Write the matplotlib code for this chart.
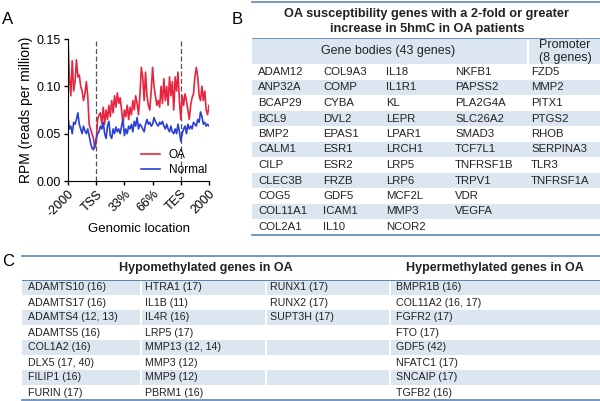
import matplotlib
matplotlib.use('Agg')
import matplotlib.pyplot as plt
from matplotlib.patches import Rectangle
import numpy as np

plt.rcParams['font.family'] = ['Liberation Sans', 'DejaVu Sans']

# Panel A: 5hmC profile (20 bins upstream, 60 gene body, 20 downstream)
oa = [0.150, 0.110, 0.090, 0.127, 0.095, 0.105, 0.128, 0.110, 0.112, 0.100,
      0.095, 0.085, 0.092, 0.105, 0.090, 0.060, 0.055, 0.050, 0.045, 0.035,
      0.040, 0.065, 0.070, 0.072, 0.060, 0.078, 0.060, 0.075, 0.065, 0.080,
      0.068, 0.085, 0.072, 0.090, 0.078, 0.093, 0.082, 0.088, 0.075, 0.060,
      0.075, 0.068, 0.080, 0.065, 0.078, 0.070, 0.085, 0.075, 0.090, 0.082,
      0.070, 0.090, 0.120, 0.110, 0.085, 0.115, 0.090, 0.080, 0.075, 0.095,
      0.120, 0.100, 0.090, 0.080, 0.085, 0.078, 0.100, 0.082, 0.108, 0.085,
      0.100, 0.080, 0.110, 0.090, 0.105, 0.075, 0.110, 0.095, 0.115, 0.085,
      0.065, 0.090, 0.080, 0.092, 0.085, 0.075, 0.065, 0.080, 0.088, 0.092,
      0.110, 0.120, 0.110, 0.090, 0.085, 0.100, 0.085, 0.095, 0.075, 0.070,
      0.080]
normal = [0.068, 0.055, 0.058, 0.050, 0.062, 0.060, 0.065, 0.072, 0.060, 0.055,
          0.050, 0.058, 0.053, 0.050, 0.055, 0.048, 0.040, 0.035, 0.033, 0.038,
          0.045, 0.050, 0.052, 0.058, 0.055, 0.062, 0.050, 0.045, 0.058, 0.063,
          0.048, 0.045, 0.055, 0.050, 0.057, 0.052, 0.055, 0.050, 0.058, 0.065,
          0.048, 0.055, 0.050, 0.058, 0.055, 0.060, 0.052, 0.063, 0.058, 0.067,
          0.055, 0.060, 0.058, 0.055, 0.052, 0.060, 0.065, 0.060, 0.062, 0.058,
          0.060, 0.067, 0.063, 0.060, 0.058, 0.062, 0.060, 0.063, 0.058, 0.055,
          0.060, 0.055, 0.052, 0.058, 0.052, 0.050, 0.055, 0.050, 0.060, 0.052,
          0.042, 0.050, 0.055, 0.058, 0.050, 0.060, 0.055, 0.058, 0.055, 0.062,
          0.060, 0.058, 0.065, 0.062, 0.073, 0.068, 0.060, 0.062, 0.058, 0.060,
          0.058]
tick_pos = [0, 20, 40, 60, 80, 100]
tick_labels = ['-2000', 'TSS', '33%', '66%', 'TES', '2000']
tss_bin, tes_bin = 20, 80

# Panel B: OA susceptibility genes
b_title = ['OA susceptibility genes with a 2-fold or greater',
           'increase in 5hmC in OA patients']
b_cols = [
    ['ADAM12', 'ANP32A', 'BCAP29', 'BCL9', 'BMP2', 'CALM1', 'CILP', 'CLEC3B', 'COG5', 'COL11A1', 'COL2A1'],
    ['COL9A3', 'COMP', 'CYBA', 'DVL2', 'EPAS1', 'ESR1', 'ESR2', 'FRZB', 'GDF5', 'ICAM1', 'IL10'],
    ['IL18', 'IL1R1', 'KL', 'LEPR', 'LPAR1', 'LRCH1', 'LRP5', 'LRP6', 'MCF2L', 'MMP3', 'NCOR2'],
    ['NKFB1', 'PAPSS2', 'PLA2G4A', 'SLC26A2', 'SMAD3', 'TCF7L1', 'TNFRSF1B', 'TRPV1', 'VDR', 'VEGFA'],
    ['FZD5', 'MMP2', 'PITX1', 'PTGS2', 'RHOB', 'SERPINA3', 'TLR3', 'TNFRSF1A'],
]

# Panel C: methylation genes
hypo_cols = [
    ['ADAMTS10 (16)', 'ADAMTS17 (16)', 'ADAMTS4 (12, 13)', 'ADAMTS5 (16)', 'COL1A2 (16)',
     'DLX5 (17, 40)', 'FILIP1 (16)', 'FURIN (17)'],
    ['HTRA1 (17)', 'IL1B (11)', 'IL4R (16)', 'LRP5 (17)', 'MMP13 (12, 14)', 'MMP3 (12)',
     'MMP9 (12)', 'PBRM1 (16)'],
    ['RUNX1 (17)', 'RUNX2 (17)', 'SUPT3H (17)'],
]
hyper_col = ['BMPR1B (16)', 'COL11A2 (16, 17)', 'FGFR2 (17)', 'FTO (17)', 'GDF5 (42)',
             'NFATC1 (17)', 'SNCAIP (17)', 'TGFB2 (16)']

red = '#e8253f'
blue = '#2a3fd4'
shade = '#dce6f1'
rule = '#5b84b8'
txt = '#222222'

fig = plt.figure(figsize=(6.0, 4.01), dpi=100)

# ---- panel A
ax = fig.add_axes([68 / 600, 1 - 181 / 401, 141 / 600, 142 / 401])
x = np.arange(len(oa))
ax.plot(x, oa, color=red, lw=1.2, label='OA')
ax.plot(x, normal, color=blue, lw=1.2, label='Normal')
for b in (tss_bin, tes_bin):
    ax.axvline(b, color='#555555', lw=0.9, ls=(0, (4, 2)), zorder=0)
ax.set_xlim(0, 100)
ax.set_ylim(0, 0.15)
ax.set_yticks([0, 0.05, 0.10, 0.15])
ax.set_yticklabels(['0.00', '0.05', '0.10', '0.15'], fontsize=9)
ax.set_xticks(tick_pos)
ax.set_xticklabels(tick_labels, fontsize=9, rotation=45, ha='right',
                   rotation_mode='anchor')
ax.spines['top'].set_visible(False)
ax.spines['right'].set_visible(False)
ax.tick_params(direction='out', length=3, width=1, pad=2)
ax.set_ylabel('RPM (reads per million)', fontsize=10, labelpad=3)
ax.set_xlabel('Genomic location', fontsize=9.5, labelpad=3)
ax.legend(loc='lower right', frameon=False, fontsize=8.5, handlelength=1.6,
          borderaxespad=0.0, labelspacing=0.3, bbox_to_anchor=(1.02, 0.0))

# ---- overlay for tables (pixel coords)
t = fig.add_axes([0, 0, 1, 1], zorder=-1)
t.set_xlim(0, 600)
t.set_ylim(401, 0)
t.axis('off')

fig.text(2 / 600, 1 - 20 / 401, 'A', fontsize=12, va='center')
fig.text(232 / 600, 1 - 19 / 401, 'B', fontsize=12, va='center')
fig.text(2 / 600, 1 - 262 / 401, 'C', fontsize=12, va='center')

# panel B
bl, br = 252, 600
t.plot([bl, br], [2, 2], color=rule, lw=1.2)
t.text(427, 14, b_title[0], fontsize=9.2, fontweight='bold', ha='center', va='center', color=txt)
t.text(427, 29, b_title[1], fontsize=9.2, fontweight='bold', ha='center', va='center', color=txt)
t.add_patch(Rectangle((bl, 38), 527 - bl, 26, color=shade, lw=0))
t.add_patch(Rectangle((529, 38), br - 529, 26, color=shade, lw=0))
t.plot([bl, br], [38, 38], color=rule, lw=0.6)
t.text(388, 51, 'Gene bodies (43 genes)', fontsize=9, ha='center', va='center', color=txt)
t.text(565, 45, 'Promoter', fontsize=9, ha='center', va='center', color=txt)
t.text(565, 58, '(8 genes)', fontsize=9, ha='center', va='center', color=txt)
b_x = [258, 323, 386, 455, 531]
pitch_b = 15.5
for i in range(11):
    yc = 72 + pitch_b * i
    if i % 2 == 1:
        t.add_patch(Rectangle((bl, yc - pitch_b / 2), br - bl, pitch_b, color=shade, lw=0))
for cx, col in zip(b_x, b_cols):
    for i, g in enumerate(col):
        t.text(cx, 72 + pitch_b * i, g, fontsize=8.2, ha='left', va='center', color=txt)
t.plot([bl, br], [235, 235], color=rule, lw=1.2)

# panel C
cl, cr = 22, 600
t.plot([cl, cr], [256, 256], color=rule, lw=1.2)
t.text(206, 268, 'Hypomethylated genes in OA', fontsize=9, fontweight='bold',
       ha='center', va='center', color=txt)
t.text(495, 268, 'Hypermethylated genes in OA', fontsize=9, fontweight='bold',
       ha='center', va='center', color=txt)
t.plot([cl, cr], [280, 280], color=rule, lw=0.7)
c_edges = [(cl, 140), (142, 265), (267, 389), (391, cr)]
c_x = [28, 145, 270, 396]
pitch_c = 15.0
for i in range(8):
    yc = 287.5 + pitch_c * i
    if i % 2 == 0:
        for x0, x1 in c_edges:
            t.add_patch(Rectangle((x0, yc - pitch_c / 2), x1 - x0, pitch_c, color=shade, lw=0))
for cx, col in zip(c_x, hypo_cols + [hyper_col]):
    for i, g in enumerate(col):
        t.text(cx, 287.5 + pitch_c * i, g, fontsize=7.7, ha='left', va='center', color=txt)
t.plot([cl, cr], [400, 400], color=rule, lw=1.2)

fig.savefig('out.png', dpi=100)
